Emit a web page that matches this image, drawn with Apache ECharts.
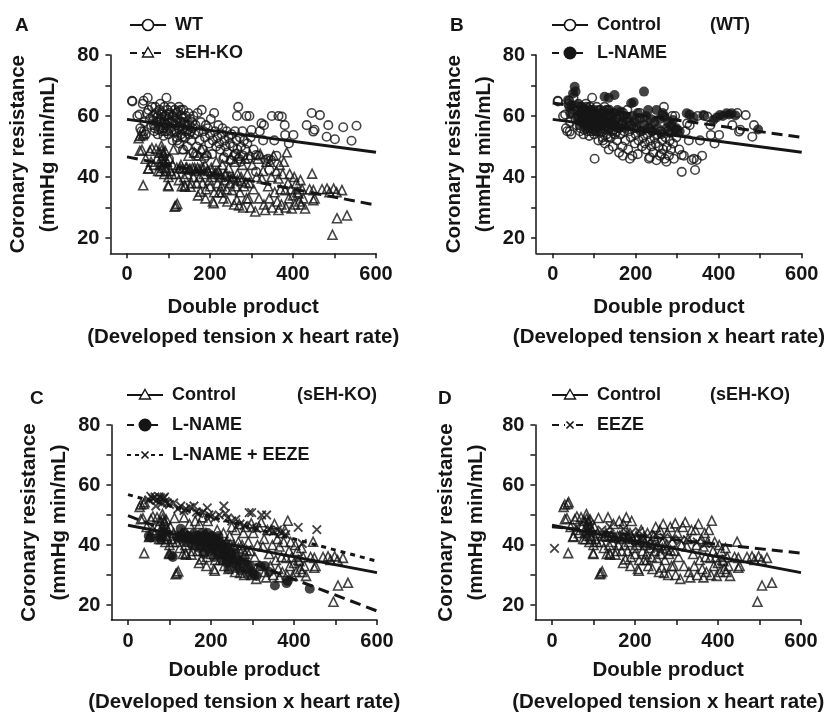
<!DOCTYPE html>
<html>
<head>
<meta charset="utf-8">
<script src="https://cdn.jsdelivr.net/npm/echarts@6.0.0/dist/echarts.min.js"></script>
<style>
  html, body { margin: 0; padding: 0; background: #fff; }
  #chart { width: 833px; height: 719px; }
</style>
</head>
<body>
<div id="chart"></div>
<script>
// tick values
const xTicks = [0, 100, 200, 300, 400, 500, 600];
const xLabels = [0, 200, 400, 600];
const yTicks = [20, 30, 40, 50, 60, 70, 80];
const yLabels = [20, 40, 60, 80];

// WT / control (WT) points
const wtCircles = [
  [12,65],[13,64.8],[25,60],[30,60.5],[32,56],[35,55],[38,64],[40,65],[41,54.9],[42,58],[45,54],[48,61],[50,66],[52,62],[55,59],[58,57],[60,63],
  [62,60],[65,57],[66,55],[68,63],[70,61],[72,58],[74,54],[75,60],[78,62],[80,56],[80,64],[82,59],[84,55],[85,61],[86,57],[88,53.5],[90,63],[90,58],
  [92,55],[94,60],[95,66],[96,57],[98,62],[100,54],[100,59],[101,46],[102,61],[104,56],[106,63],[108,58],[110,52],
  [63,58.5],[67,56],[71,59.5],[76,55.5],[79,58],[83,60.5],[87,56],[91,60],[93,57.5],[97,55],[99,60.5],[103,58],[107,55],[109,60],
  [112,60],[114,55],[115,62],[118,57],[120,53],[120,61],[121,52],[122,59],[124,56],[125,63],[126,51],[128,58],[130,62],[130,54],[132,60],[134,56],
  [116,58.5],[119,55],[123,61.5],[127,56.5],[131,58],[133,53],[137,59.5],[139,55],[141,57],[147,55.5],[151,57],[154,55],[157,58],
  [135,49],[136,62],[138,58],[140,53],[142,60],[144,55],[145,50],[146,57],[148,61],[150,54],[152,59],[155,52],[158,56],[160,60],[160,48],
  [163,54],[165,57],[168,50],[169,47],[170,61],[172,55],[175,52],[178,58],[180,62],[182,49],[185,55],[186,46],[188,53],[190,57],[192,47],[195,56],
  [198,51],[200,54],[202,59],[205,47.5],[207,52],[210,61],[212,55],[215,50],[218,53],[220,57],
  [222,51],[225,49],[228,54],[230,56],[232,46],[234,46.5],[235,52],[238,50],[240,55],[242,48],[245,53],[248,51],[250,45.5],[252,54],[255,50],
  [258,47],[260,55],[262,47.6],[264,52],[265,60],[266,49],[268,63],[270,46],[272,53],[274,45],[275,50],[278,55],[280,47],[282,52],[285,49],
  [288,60],[290,51],[292,46],[295,60],[298,53],
  [300,55.4],[305,49],[311,41.7],[311,47.2],[316,47],[320,55],[324,57.6],[328,52],[330,57],[335,45.6],[340,46],[343,42.3],[347,45.6],[349,60],
  [355,52],[360,47],[365,60],[373,59.8],[380,57],[381,53.8],[390,51],[401,53.8],
  [433,57],[445,61],[449,54.9],[452,55.5],[465,60.3],[481,53.2],[485,57]
];
const wtExtra = [[501,52.4],[521,56.3],[541,51.9],[553,56.8]];

// sEH-KO / control (sEH-KO) points
const koTriangles = [
  [28,52.7],[31,53.5],[38,53.7],[40,54.3],[31,48.6],[36,48.9],[39,37.3],[45,46],[51,42.7],[52,42.9],[55,48.6],[58,45],[60,49.5],
  [65,44],[70,49.2],[72,46],[75,42],[78,48],[80,41.9],[83,50.3],[84,48.9],[85,45],[86,43],[88,44.5],[88,47],[90,41],[92,48.5],[95,42],[96,45],
  [99,37.3],[100,37],[100,40],[102,46],[105,42],[108,41],[110,44],[112,49],[115,30.3],[118,30.6],[118,41],[121,31.2],[120,43],
  [125,39],[128,42.9],[130,44],[132,37],[135,49.2],[138,40],[139,37.3],[140,36.8],[142,43],[145,41],[148,47],[150,42.5],[153,36.8],[155,38],
  [158,43],[160,40],[162,48],[165,42],[168,38],[170,43],[171,34],[172,47],[175,40],[177,35.2],[179,49.2],[180,43],[182,38],[185,41],[188,44],
  [189,33],[190,36],[192,48],[195,42],[198,39],[200,37],
  [134,42.8],[144,43.2],[152,42.6],[163,43],[174,42.5],[184,42.8],[194,42.2],[204,41.8],[214,41.5],[224,41],[236,40.6],[246,40.2],
  [256,39.5],[266,39],[276,38.6],[286,38.2],[79,44],[82,46],[87,48],[90,45],[93,43],
  [203,43],[205,40],[207,32],[209,31.4],[210,35],[212,41],[215,45],[218,38],[220,42],[222,35],[225,40],[228,37],[229,35],[230,44],[232,33],
  [235,39],[238,41],[240,36],[242,32],[245,43],[248,38],[250,46],[253,35.7],[255,40],[258,31],[260,45],[262,37],[265,32.5],[266,41],[268,47],
  [270,30.7],[272,35],[275,40],[278,44],[280,30],[282,37],[285,46],[288,33],[290,41],[293,33],[295,38],[297,47.2],[298,30],
  [302,44],[305,36],[309,28.7],[312,40],[315,46],[318,33],[321,47.6],[325,39.5],[328,42],[330,31],[333,29.2],[336,45],[340,37],[343,33],[345,45],
  [348,40],[350,30],[353,47],[356,35],[360,42],[362,32],[365,29.2],[365,39.5],[368,44],[370,36],[372,31],[375,41],[378,45],[381,35.7],[383,30],
  [385,48.1],[388,38],[390,33],[392,41],[395,36],[397,29.7],[400,34],[403,40],[405,31],[408,38],[410,35],[413,34.6],[415,32],[418,39],[420,31],
  [422,36],[425,33],[429,29.7],
  [440,36],[446,41.1],[449,35.7],[449,32.4],[452,33],[470,36],[482,36.2],[488,35],[498,36.2],[505,35],[518,35.7],[495,21.1],[506,26.5],[530,27.4]
];

// L-NAME (WT) points
const lnameWT = [
  [37,65.2],[40,63],[42,61],[45,63.5],[49,67.4],[53,69.6],[55,68],[58,62],[60,60],[62,64],[65,58],[68,61],[70,63],[72,59],[75,62],[78,57],
  [80,60],[82,63],[85,58],[88,61],[90,56],[92,62],[95,59],[98,57],[100,61],[103,55],[105,60],[108,58],[110,62],[112,56],[115,59],[118,61],
  [120,57],[125,66.3],[128,60],[130,58],[133,62],[135,66],[138,56],[140,60],[143,58],[146,61],[149,66.9],[150,57],[153,59],[156,62],[160,56],
  [165,61.4],[168,58],[172,60],[175,56],[180,59],[185,57],[189,64.2],[192,60],[195,64.5],[198,58],[202,56],[205,61],[210,59],[215,55],[220,68],
  [222,57],[225,60],[230,62],[233,56],[236,59],[240,55],[245,58],[250,62],[253,56],[258,59],[262,54],[265,61],[270,59.8],[274,56],[278,58],
  [282,54.5],[286,57],[290,58.7],[295,55.5],[298,56],[306,55],[323,60.9],[330,60.5],[340,59.5],[363,60.3],[387,58.7],[395,59.5],[403,60.3],
  [410,60],[419,60.9],[425,60.5],[431,60.9],[440,60.2],[495,55.6]
];

// L-NAME (sEH-KO) points
const lnameKO = [
  [50,43],[55,42.5],[75,42.5],[80,42],[105,36.5],[108,36],[120,43],[125,42],[127,45.4],[135,44],[140,41],[145,43],[150,42],[155,40],[159,43.8],
  [165,41],[170,43],[172,39],[175,42],[178,44],[180,40],[182,37],[185,43],[188,41],[190,39],[192,44],[195,42],[198,38],[200,41],[202,43],
  [205,39],[208,36],[210,42],[212,40],[215,38],[218,43],[220,37],[222,41],[225,39],[228,35],[230,40],[232,37],[235,38],[238,34],[240,36],
  [242,32],[245,38],[248,35],[250,37],[255,34],[258,36],[262,33],[265,35],[270,31.5],[275,34],[280,35],[285,32],[290,30],[295,33],[300,31],
  [305,30],[310,29.7],[320,33],[330,33],[340,31],[354,26.5],[382,27.3],[385,28],[438,25.4]
];

// L-NAME + EEZE (sEH-KO) points
const lnameEezeKO = [
  [50,55],[55,56.2],[60,55.5],[65,56],[67,53],[70,55],[75,56],[79,55.7],[82,54],[85,55.5],[88,56],[90,54.5],[95,54],[100,53.5],[110,54],
  [120,52],[127,53],[135,51.5],[140,52],[150,52.5],[159,53],[165,51],[170,50.5],[180,51],[191,52.4],[195,50],[200,49.5],[210,49],[220,50],
  [231,53],[235,50.5],[240,49],[250,48],[260,48.5],[270,47],[280,46.5],[292,50.8],[298,50.8],[300,46],[310,45.5],[322,50],[334,50],[340,45],
  [350,44.5],[360,45],[370,44],[380,43.5],[410,45.9],[420,40.5],[455,45.1]
];

// EEZE (sEH-KO) points
const eezeKO = [
  [6,38.9],[60,46],[90,47],[120,45],[140,46],[172,45.4],[190,44],[210,44.5],[230,43],[250,43.5],[270,42.5],[290,42],[310,41.5],[326,41.8],
  [350,41],[370,40.5]
];

// regression lines (end points)
const wtFit = [[0,58.9],[600,48.1]];
const koFit = [[0,46.6],[600,30.8]];
const lnameWTFit = [[0,64.3],[600,53]];
const lnameKOFit = [[0,49.8],[600,18]];
const lnameEezeFit = [[0,56.8],[600,34.6]];
const eezeFit = [[0,46.1],[600,37.3]];

const INK = '#151515';
const FONT = '"Liberation Sans", Arial, sans-serif';

const grids = [
  { left: 110.4, top: 55, width: 265.6, height: 198.3 },
  { left: 536.1, top: 55, width: 265.6, height: 198.3 },
  { left: 111.4, top: 425, width: 265.6, height: 200.4 },
  { left: 535.4, top: 425, width: 265.6, height: 200.4 }
];
const yNameGap = [47, 35, 35, 44];
const xNameLineHeight = [30, 30, 32, 32];
const xNameGap = [39, 39, 34, 34];

function xAxis(i) {
  return {
    type: 'value', gridIndex: i, min: -40, max: 600,
    axisLine: { show: true, onZero: false, lineStyle: { color: INK, width: 1.5 } },
    axisTick: { show: true, customValues: xTicks, length: 5, lineStyle: { color: INK, width: 1.5 } },
    axisLabel: { customValues: xLabels, margin: 11, color: INK, fontSize: 20, fontWeight: 'bold', fontFamily: FONT },
    splitLine: { show: false },
    name: 'Double product\n(Developed tension x heart rate)',
    nameLocation: 'middle', nameGap: xNameGap[i],
    nameTextStyle: { color: INK, fontSize: 20.5, fontWeight: 'bold', fontFamily: FONT, lineHeight: xNameLineHeight[i] }
  };
}

function yAxis(i) {
  return {
    type: 'value', gridIndex: i, min: 15, max: 80,
    axisLine: { show: true, onZero: false, lineStyle: { color: INK, width: 1.5 } },
    axisTick: { show: true, customValues: yTicks, length: 5, lineStyle: { color: INK, width: 1.5 } },
    axisLabel: { customValues: yLabels, margin: 11, color: INK, fontSize: 20, fontWeight: 'bold', fontFamily: FONT },
    splitLine: { show: false },
    name: 'Coronary resistance\n(mmHg min/mL)',
    nameLocation: 'middle', nameGap: yNameGap[i],
    nameTextStyle: { color: INK, fontSize: 20.5, fontWeight: 'bold', fontFamily: FONT, lineHeight: 30 }
  };
}

const CROSS = 'path://M0,0L10,10M0,10L10,0';

function points(i, data, kind) {
  let s = { type: 'scatter', xAxisIndex: i, yAxisIndex: i, data: data, silent: true, z: 2 };
  if (kind === 'circle') {
    s.symbol = 'circle'; s.symbolSize = 8.5;
    s.itemStyle = { color: 'rgba(0,0,0,0)', borderColor: INK, borderWidth: 1.6 };
  } else if (kind === 'triangle') {
    s.symbol = 'triangle'; s.symbolSize = 9;
    s.itemStyle = { color: 'rgba(0,0,0,0)', borderColor: INK, borderWidth: 1.6 };
  } else if (kind === 'dot') {
    s.symbol = 'circle'; s.symbolSize = 10;
    s.itemStyle = { color: INK };
  } else {
    s.symbol = CROSS; s.symbolSize = 8.5;
    s.itemStyle = { color: 'none', borderColor: INK, borderWidth: 1.8 };
  }
  return s;
}

function fit(i, data, dash) {
  return {
    type: 'line', xAxisIndex: i, yAxisIndex: i, data: data, symbol: 'none', silent: true, z: 5,
    lineStyle: { color: INK, width: 3, type: dash || 'solid' }
  };
}

// legend rows drawn as graphics
function legendItem(x, y, label, marker, dash) {
  const cx = x + 18;
  let els = [{
    type: 'line', shape: { x1: x, y1: y, x2: x + 36, y2: y },
    style: { stroke: INK, lineWidth: 2, lineDash: dash || null }
  }];
  if (marker === 'circle') {
    els.push({ type: 'circle', shape: { cx: cx, cy: y, r: 5.5 }, style: { fill: '#fff', stroke: INK, lineWidth: 1.6 } });
  } else if (marker === 'dot') {
    els.push({ type: 'circle', shape: { cx: cx, cy: y, r: 6.5 }, style: { fill: INK } });
  } else if (marker === 'triangle') {
    els.push({ type: 'polygon', shape: { points: [[cx, y - 5.5], [cx + 5.5, y + 4], [cx - 5.5, y + 4]] },
      style: { fill: '#fff', stroke: INK, lineWidth: 1.4 } });
  } else {
    els.push({ type: 'rect', shape: { x: cx - 5, y: y - 5, width: 10, height: 10 }, style: { fill: '#fff' } });
    els.push({ type: 'line', shape: { x1: cx - 3.5, y1: y - 3.5, x2: cx + 3.5, y2: y + 3.5 }, style: { stroke: INK, lineWidth: 1.6 } });
    els.push({ type: 'line', shape: { x1: cx - 3.5, y1: y + 3.5, x2: cx + 3.5, y2: y - 3.5 }, style: { stroke: INK, lineWidth: 1.6 } });
  }
  els.push(label_(x + 45, y, label, 18));
  return els;
}

function label_(x, y, text, size) {
  return { type: 'text', x: x, y: y,
    style: { text: text, fill: INK, font: 'bold ' + size + 'px ' + FONT, verticalAlign: 'middle' } };
}

const graphics = [].concat(
  label_(15, 26, 'A', 19),
  legendItem(130, 25, 'WT', 'circle'),
  legendItem(130, 53, 'sEH-KO', 'triangle', [7, 5]),
  label_(450, 26, 'B', 19),
  legendItem(552, 25, 'Control', 'circle'),
  legendItem(552, 53, 'L-NAME', 'dot', [7, 5]),
  label_(710, 25, '(WT)', 18),
  label_(30, 399, 'C', 19),
  legendItem(127, 395, 'Control', 'triangle'),
  legendItem(127, 425, 'L-NAME', 'dot', [7, 5]),
  legendItem(127, 455, 'L-NAME + EEZE', 'cross', [4, 4]),
  label_(297, 395, '(sEH-KO)', 18),
  label_(438, 399, 'D', 19),
  legendItem(552, 395, 'Control', 'triangle'),
  legendItem(552, 425, 'EEZE', 'cross', [7, 5]),
  label_(710, 395, '(sEH-KO)', 18)
);

const chart = echarts.init(document.getElementById('chart'), null, { renderer: 'canvas' });
chart.setOption({
  animation: false,
  backgroundColor: '#fff',
  grid: grids,
  xAxis: [0, 1, 2, 3].map(xAxis),
  yAxis: [0, 1, 2, 3].map(yAxis),
  graphic: graphics,
  series: [
    // A
    points(0, wtCircles, 'circle'),
    points(0, wtExtra, 'circle'),
    points(0, koTriangles, 'triangle'),
    fit(0, wtFit),
    fit(0, koFit, [11, 6]),
    // B
    points(1, wtCircles, 'circle'),
    points(1, lnameWT, 'dot'),
    fit(1, wtFit),
    fit(1, lnameWTFit, [11, 6]),
    // C
    points(2, koTriangles, 'triangle'),
    points(2, lnameKO, 'dot'),
    points(2, lnameEezeKO, 'cross'),
    fit(2, koFit),
    fit(2, lnameKOFit, [11, 6]),
    fit(2, lnameEezeFit, [5, 5]),
    // D
    points(3, eezeKO, 'cross'),
    points(3, koTriangles, 'triangle'),
    fit(3, koFit),
    fit(3, eezeFit, [11, 6])
  ]
});
</script>
</body>
</html>
